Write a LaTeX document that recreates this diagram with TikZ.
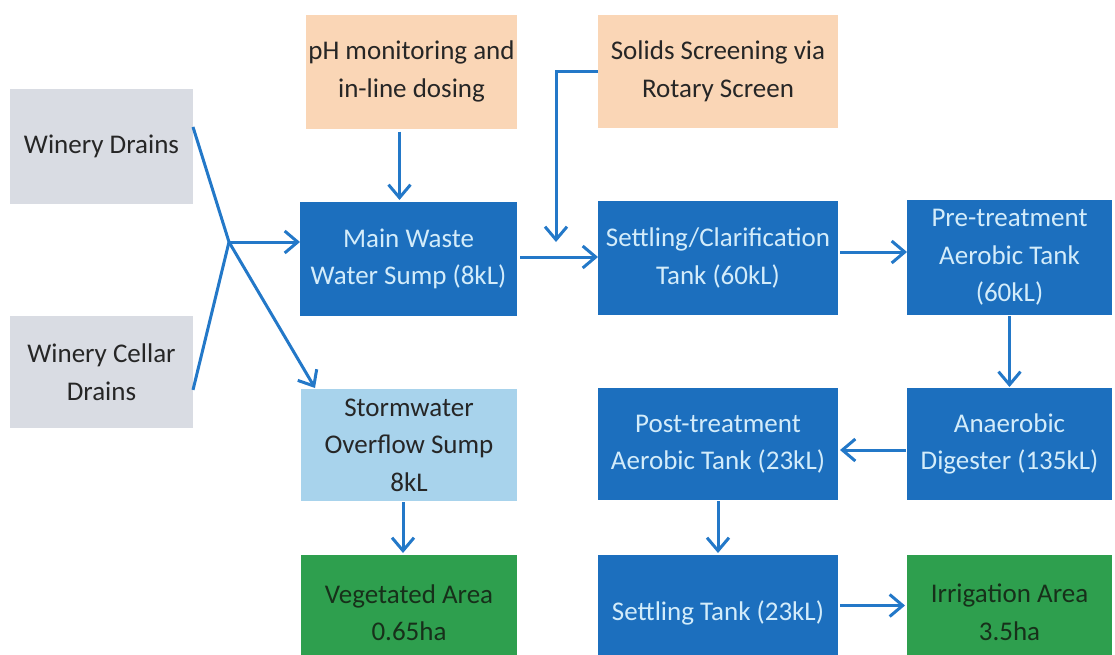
\documentclass[tikz,border=0pt]{standalone}
\usepackage{fontspec}
\setmainfont{Carlito}
\usetikzlibrary{arrows.meta,calc}

\definecolor{drainfill}{HTML}{D9DCE3}
\definecolor{treatfill}{HTML}{FAD6B6}
\definecolor{tankfill}{HTML}{1C6FBE}
\definecolor{stormfill}{HTML}{A8D3EC}
\definecolor{areafill}{HTML}{2E9F4E}
\definecolor{darktext}{HTML}{262626}
\definecolor{tanktext}{HTML}{D3ECFA}
\definecolor{areatext}{HTML}{17301A}
\definecolor{flowblue}{HTML}{2378C8}

\begin{document}
\begin{tikzpicture}[x=1pt,y=-1pt,
  box/.style={rectangle, inner sep=0pt, outer sep=0pt, align=center,
              font=\fontsize{27}{37.5}\selectfont},
  drain/.style={box, fill=drainfill, text=darktext},
  treat/.style={box, fill=treatfill, text=darktext},
  tank/.style={box, fill=tankfill, text=tanktext},
  storm/.style={box, fill=stormfill, text=darktext},
  area/.style={box, fill=areafill, text=areatext},
  pipe/.style={draw=flowblue, line width=3pt},
  flow/.style={pipe, -{Straight Barb[length=13pt,width=22pt]}}
]
\useasboundingbox (0,0) rectangle (1115,654);
\clip (0,0) rectangle (1115,654);

% sources
\node[drain, minimum width=183pt, minimum height=115pt] (wd)  at (101.5,146.5) {Winery Drains};
\node[drain, minimum width=183pt, minimum height=112pt] (wcd) at (101.5,372)   {Winery Cellar\\Drains};

% dosing and screening
\node[treat, minimum width=211pt, minimum height=114pt] (ph)     at (411.5,71.5) {pH monitoring and\\in-line dosing};
\node[treat, minimum width=240pt, minimum height=113pt] (solids) at (718,71.5)   {Solids Screening via\\Rotary Screen};

% main treatment train
\node[tank, minimum width=217pt, minimum height=114pt] (sump)   at (408.5,259)  {Main Waste\\Water Sump (8kL)};
\node[tank, minimum width=240pt, minimum height=114pt] (settle) at (718,258)    {Settling/Clarification\\Tank (60kL)};
\node[tank, minimum width=205pt, minimum height=115pt] (pre)    at (1009.5,257.5) {Pre-treatment\\Aerobic Tank\\(60kL)};
\node[tank, minimum width=205pt, minimum height=112pt] (anaer)  at (1009.5,444) {Anaerobic\\Digester (135kL)};
\node[tank, minimum width=240pt, minimum height=112pt] (post)   at (718,444)    {Post-treatment\\Aerobic Tank (23kL)};
\node[tank, minimum width=240pt, minimum height=115pt] (stank)  at (718,612.5)  {Settling Tank (23kL)};

% overflow and disposal areas
\node[storm, minimum width=216pt, minimum height=112pt] (storm) at (409,445)      {Stormwater\\Overflow Sump\\8kL};
\node[area,  minimum width=216pt, minimum height=115pt] (veg)   at (409,612.5)    {Vegetated Area\\0.65ha};
\node[area,  minimum width=205pt, minimum height=115pt] (irr)   at (1009.5,612.5) {Irrigation Area\\3.5ha};

% drain junction
\coordinate (j) at (229,242);
\draw[pipe] ($(wd.north east)!0.33!(wd.south east)$) -- (j);
\draw[pipe] ($(wcd.north east)!0.66!(wcd.south east)$) -- (j);
\draw[flow] (j) -- (sump.west |- j);
\draw[flow] (j) -- ([xshift=14pt,yshift=1pt]storm.north west);

% dosing feed and screen return
\draw[flow] ([xshift=-12pt,yshift=-3pt]ph.south) -- ([xshift=-12pt,yshift=2pt]ph.south |- sump.north);
\coordinate (drop) at (556,242);
\draw[flow] (solids.west) -| (drop);

% treatment flow
\draw[flow] ([xshift=3pt,yshift=2pt]sump.east) -- ([yshift=2pt]sump.east -| settle.west);
\draw[flow] ([xshift=2pt,yshift=6pt]settle.east) -- ([yshift=6pt]settle.east -| pre.west);
\draw[flow] ([yshift=-1pt]pre.south) -- ([yshift=1pt]anaer.north);
\draw[flow] ([xshift=-1pt,yshift=-6pt]anaer.west) -- ([xshift=2pt,yshift=-6pt]anaer.west -| post.east);
\draw[flow] ([yshift=-1pt]post.south) -- ([yshift=2pt]stank.north);
\draw[flow] ([xshift=2pt,yshift=7pt]stank.east) -- ([xshift=-2pt,yshift=7pt]stank.east -| irr.west);
\draw[flow] ([xshift=-6pt,yshift=-1pt]storm.south) -- ([xshift=-6pt,yshift=2pt]veg.north);
\end{tikzpicture}
\end{document}
